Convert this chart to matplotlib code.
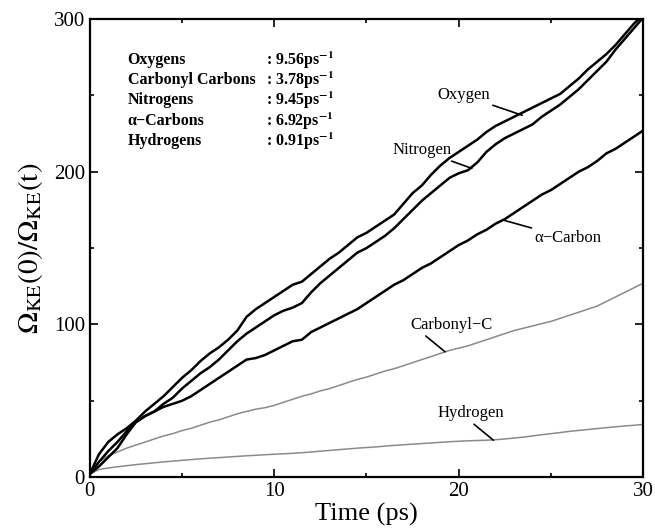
import matplotlib
matplotlib.use("Agg")
import matplotlib.pyplot as plt
from matplotlib.ticker import MultipleLocator

plt.rcParams['font.family'] = ['Liberation Serif', 'DejaVu Serif']
plt.rcParams['mathtext.fontset'] = 'stix'

# time grid (ps), every 0.5 ps
time = [i * 0.5 for i in range(61)]

oxygen = [2, 15, 23, 28, 32, 37, 43, 48, 53, 59, 65, 70, 76, 81, 85, 90, 96, 105,
          110, 114, 118, 122, 126, 128, 133, 138, 143, 147, 152, 157, 160, 164, 168,
          172, 179, 186, 191, 198, 204, 209, 213, 217, 221, 226, 230, 233, 236, 239,
          242, 245, 248, 251, 256, 261, 267, 272, 277, 283, 290, 297, 303]

nitrogen = [2, 7, 13, 19, 28, 36, 40, 43, 48, 52, 58, 63, 68, 72, 77, 83, 89, 94,
            98, 102, 106, 109, 111, 114, 121, 127, 132, 137, 142, 147, 150, 154, 158,
            163, 169, 175, 181, 186, 191, 196, 199, 201, 206, 213, 218, 222, 225, 228,
            231, 236, 240, 244, 249, 254, 260, 266, 272, 280, 287, 294, 301]

alpha_carbon = [2, 10, 17, 23, 30, 36, 40, 43, 46, 48, 50, 53, 57, 61, 65, 69, 73, 77,
                78, 80, 83, 86, 89, 90, 95, 98, 101, 104, 107, 110, 114, 118, 122, 126,
                129, 133, 137, 140, 144, 148, 152, 155, 159, 162, 166, 169, 173, 177,
                181, 185, 188, 192, 196, 200, 203, 207, 212, 215, 219, 223, 227]

carbonyl = [2, 10, 14, 16.5, 19, 21, 23, 25, 27, 28.5, 30.5, 32, 34, 36, 37.5, 39.5,
            41.5, 43, 44.5, 45.5, 47, 49, 51, 53, 54.5, 56.5, 58, 60, 62, 64, 65.5,
            67.5, 69.5, 71, 73, 75, 77, 79, 81, 83, 84.5, 86, 88, 90, 92, 94, 96, 97.5,
            99, 100.5, 102, 104, 106, 108, 110, 112, 115, 118, 121, 124, 127]

hydrogen = [2, 5, 6, 6.8, 7.5, 8.2, 8.8, 9.4, 10, 10.5, 11, 11.5, 12, 12.4, 12.8, 13.2,
            13.6, 14, 14.3, 14.7, 15, 15.3, 15.6, 16, 16.5, 17, 17.5, 18, 18.5, 19, 19.4,
            19.8, 20.3, 20.8, 21.2, 21.6, 22, 22.4, 22.8, 23.2, 23.5, 23.8, 24, 24.2,
            24.5, 25, 25.6, 26.2, 27, 27.8, 28.5, 29.2, 30, 30.6, 31.2, 31.8, 32.4, 33,
            33.5, 34, 34.5]

rate_names = ["Oxygens", "Carbonyl Carbons", "Nitrogens", "\u03b1\u2212Carbons", "Hydrogens"]
rate_values = ["9.56", "3.78", "9.45", "6.92", "0.91"]

fig = plt.figure(figsize=(6.55, 5.29), dpi=100)
ax = fig.add_axes([0.137, 0.098, 0.845, 0.866])

ax.plot(time, carbonyl, color="#8a8a8a", lw=1.1)
ax.plot(time, hydrogen, color="#8a8a8a", lw=1.1)
ax.plot(time, alpha_carbon, color="black", lw=1.8)
ax.plot(time, nitrogen, color="black", lw=1.8)
ax.plot(time, oxygen, color="black", lw=1.8)

ax.set_xlim(0, 30)
ax.set_ylim(0, 300)
ax.xaxis.set_major_locator(MultipleLocator(10))
ax.xaxis.set_minor_locator(MultipleLocator(5))
ax.yaxis.set_major_locator(MultipleLocator(100))
ax.yaxis.set_minor_locator(MultipleLocator(50))
ax.tick_params(which="both", direction="in", top=True, right=True, width=1.2, labelsize=15)
ax.tick_params(which="major", length=6)
ax.tick_params(which="minor", length=3)
for sp in ax.spines.values():
    sp.set_linewidth(1.6)

ax.set_xlabel("Time (ps)", fontsize=19, labelpad=1)
ax.set_ylabel(r"$\Omega_{\mathrm{KE}}(0)/\Omega_{\mathrm{KE}}(\mathrm{t})$", fontsize=21, labelpad=6)

# rate table
row_y = [273, 260, 247, 233, 220]
for name, val, y in zip(rate_names, rate_values, row_y):
    ax.text(2.06, y, name, fontsize=11.5, fontweight="bold", va="center")
    ax.text(9.55, y, ": " + val + r"ps$^{\mathbf{-1}}$", fontsize=11.5,
            fontweight="bold", va="center")

# curve labels with leader lines
lab = dict(fontsize=12, va="center")
line = dict(arrowstyle="-", lw=1.2, color="black", shrinkA=0, shrinkB=0)
ax.annotate("Oxygen", xy=(23.44, 237), xytext=(21.7, 250), ha="right", arrowprops=line, **lab)
ax.annotate("Nitrogen", xy=(20.71, 202.2), xytext=(19.6, 214), ha="right", arrowprops=line, **lab)
ax.annotate("\u03b1\u2212Carbon", xy=(22.43, 168.3), xytext=(24.1, 156.5), ha="left",
            arrowprops=line, **lab)
ax.annotate("Carbonyl\u2212C", xy=(19.26, 82.1), xytext=(17.36, 99.5), ha="left",
            arrowprops=dict(line, relpos=(0.15, 0.0)), **lab)
ax.annotate("Hydrogen", xy=(21.88, 24.2), xytext=(18.84, 41.7), ha="left",
            arrowprops=dict(line, relpos=(0.5, 0.0)), **lab)

fig.savefig("out.png", dpi=100)
